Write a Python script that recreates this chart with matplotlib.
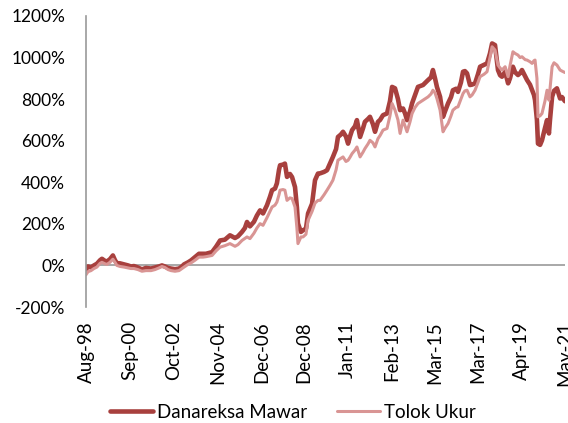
import matplotlib
matplotlib.use("Agg")
import matplotlib.pyplot as plt
from matplotlib.ticker import FuncFormatter

plt.rcParams["font.family"] = ["Lato", "DejaVu Sans"]

# decimal year, Danareksa Mawar (%), Tolok Ukur (%)
years = [
    1998.58, 1998.68, 1998.82, 1998.96, 1999.10, 1999.25, 1999.34, 1999.48, 1999.58, 1999.72,
    1999.86, 1999.96, 2000.05, 2000.20, 2000.39, 2000.58, 2000.72, 2000.86, 2001.05, 2001.24,
    2001.43, 2001.67, 2001.86, 2002.05, 2002.19, 2002.33, 2002.48, 2002.62, 2002.81, 2003.00,
    2003.14, 2003.24, 2003.43, 2003.57, 2003.76, 2003.95, 2004.14, 2004.28, 2004.42, 2004.57,
    2004.76, 2004.95, 2005.18, 2005.42, 2005.66, 2005.80, 2005.99, 2006.13, 2006.23, 2006.37,
    2006.56, 2006.70, 2006.85, 2006.99, 2007.18, 2007.32, 2007.42, 2007.56, 2007.65, 2007.75,
    2007.80, 2007.94, 2008.03, 2008.13, 2008.27, 2008.37, 2008.51, 2008.60, 2008.65, 2008.79,
    2008.89, 2009.03, 2009.13, 2009.32, 2009.46, 2009.60, 2009.70, 2009.89, 2010.03, 2010.17,
    2010.31, 2010.46, 2010.55, 2010.69, 2010.79, 2010.93, 2011.03, 2011.12, 2011.22, 2011.36,
    2011.45, 2011.60, 2011.74, 2011.83, 2011.98, 2012.07, 2012.21, 2012.31, 2012.45, 2012.55,
    2012.69, 2012.88, 2013.02, 2013.12, 2013.26, 2013.40, 2013.50, 2013.64, 2013.74, 2013.83,
    2013.97, 2014.07, 2014.21, 2014.35, 2014.59, 2014.83, 2014.97, 2015.06, 2015.16, 2015.25,
    2015.40, 2015.54, 2015.63, 2015.78, 2015.92, 2016.01, 2016.16, 2016.25, 2016.39, 2016.49,
    2016.58, 2016.68, 2016.82, 2016.92, 2017.06, 2017.20, 2017.30, 2017.49, 2017.63, 2017.77,
    2017.87, 2018.01, 2018.15, 2018.25, 2018.34, 2018.49, 2018.63, 2018.72, 2018.86, 2018.96,
    2019.10, 2019.20, 2019.29, 2019.44, 2019.53, 2019.67, 2019.77, 2019.86, 2019.91, 2020.00,
    2020.05, 2020.15, 2020.24, 2020.38, 2020.48, 2020.57, 2020.62, 2020.72, 2020.81, 2020.95,
    2021.10, 2021.19, 2021.33,
]
mawar = [
    -20, -5, -10, 0, 8, 25, 32, 22, 19, 30,
    48, 25, 11, 10, 5, 0, -5, -3, -10, -19,
    -12, -15, -10, -5, 0, -5, -12, -15, -18, -15,
    -5, 5, 15, 24, 40, 56, 56, 56, 60, 64,
    90, 120, 124, 145, 132, 140, 161, 180, 209, 188,
    210, 240, 265, 250, 290, 330, 362, 370, 395, 460,
    482, 485, 490, 426, 440, 425, 377, 280, 202, 161,
    169, 177, 250, 297, 410, 442, 443, 450, 458, 490,
    522, 560, 618, 630, 643, 620, 586, 620, 651, 670,
    699, 618, 660, 691, 705, 715, 680, 643, 691, 700,
    723, 731, 790, 859, 852, 800, 747, 755, 730, 699,
    740, 780, 820, 859, 868, 892, 905, 940, 900, 859,
    811, 715, 740, 780, 810, 843, 850, 835, 880, 932,
    935, 924, 868, 870, 876, 920, 956, 965, 972, 1020,
    1068, 1060, 940, 915, 908, 932, 876, 900, 956, 930,
    916, 925, 940, 910, 892, 870, 843, 820, 795, 700,
    586, 580, 602, 660, 699, 635, 700, 811, 840, 852,
    803, 810, 790,
]
tolok = [
    -45, -30, -25, -15, -8, 10, 15, 8, 5, 15,
    30, 15, 0, -5, -8, -12, -15, -15, -20, -28,
    -25, -25, -20, -12, -5, -10, -20, -25, -28, -25,
    -15, -8, 5, 12, 25, 40, 40, 42, 45, 48,
    70, 88, 95, 105, 92, 100, 120, 130, 137, 129,
    155, 180, 201, 193, 230, 260, 281, 290, 305, 340,
    362, 365, 362, 313, 325, 322, 281, 180, 105, 137,
    137, 150, 217, 260, 300, 313, 313, 340, 362, 385,
    410, 460, 506, 515, 522, 500, 506, 520, 538, 555,
    570, 522, 545, 562, 585, 602, 590, 570, 610, 625,
    651, 659, 720, 779, 747, 700, 635, 699, 670, 643,
    690, 731, 760, 779, 795, 811, 825, 843, 830, 803,
    747, 643, 660, 683, 720, 747, 760, 763, 800, 827,
    840, 843, 811, 820, 843, 880, 908, 920, 932, 1000,
    1052, 1036, 964, 950, 940, 956, 908, 960, 1028, 1020,
    1012, 1000, 1004, 990, 988, 980, 972, 985, 988, 900,
    715, 720, 731, 790, 843, 795, 850, 956, 975, 964,
    940, 935, 928,
]

tick_years = [1998.583, 2000.667, 2002.75, 2004.833, 2006.917, 2008.917,
              2011.0, 2013.083, 2015.167, 2017.167, 2019.25, 2021.333]
tick_labels = ["Aug-98", "Sep-00", "Oct-02", "Nov-04", "Dec-06", "Dec-08",
               "Jan-11", "Feb-13", "Mar-15", "Mar-17", "Apr-19", "May-21"]

fig = plt.figure(figsize=(5.68, 4.23), dpi=100)
ax = fig.add_axes([86 / 568, 1 - 307 / 423, 479 / 568, 291 / 423])

ax.plot(years, mawar, color="#A8403E", lw=3.3, label="Danareksa Mawar", solid_capstyle="round")
ax.plot(years, tolok, color="#D99594", lw=2.2, label="Tolok Ukur", solid_capstyle="round")

ax.axhline(0, color="#9A9A9A", lw=1.2, zorder=0)
ax.set_xlim(tick_years[0], tick_years[-1])
ax.set_ylim(-200, 1200)
ax.set_yticks(range(-200, 1201, 200))
ax.yaxis.set_major_formatter(FuncFormatter(lambda v, p: f"{v:.0f}%"))
ax.set_xticks(tick_years)
ax.set_xticklabels(tick_labels, rotation=90)

for s in ["top", "right", "bottom"]:
    ax.spines[s].set_visible(False)
ax.spines["left"].set_color("#9A9A9A")
ax.spines["left"].set_linewidth(1.2)
ax.tick_params(axis="y", length=0, pad=15, labelsize=12.5)
ax.tick_params(axis="x", length=0, pad=10, labelsize=13.5)

fig.legend(loc="center", bbox_to_anchor=(293 / 568, 1 - 412 / 423), ncol=2,
           frameon=False, fontsize=13.5, handlelength=2.3, handletextpad=0.2,
           columnspacing=1.6)

fig.savefig("out.png", dpi=100)
